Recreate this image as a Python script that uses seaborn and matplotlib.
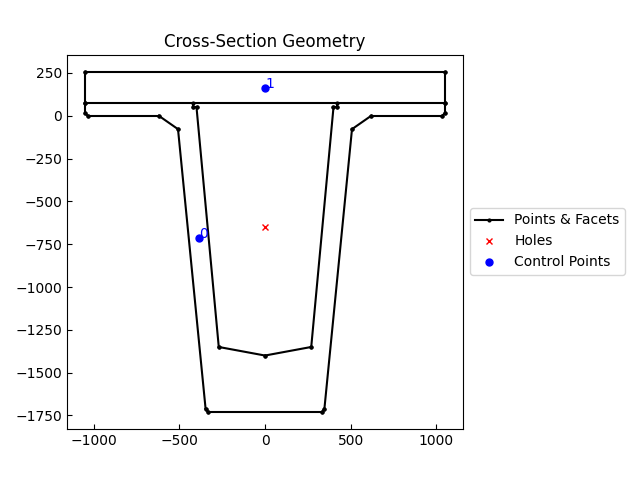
# Imports
import matplotlib
matplotlib.use('Agg')
import matplotlib.pyplot as plt
import seaborn as sns

# Section outline, top slab
slab_x = [-1050, 1050, 1050, -1050, -1050]
slab_y = [255, 255, 75, 75, 255]

# Outer web and flanges
outer_x = [-1050, -1050, -1035, -620, -508, -347, -333, 333, 347, 508, 620, 1035, 1050, 1050]
outer_y = [75, 15, 0, 0, -78, -1710, -1730, -1730, -1710, -78, 0, 0, 15, 75]

# Inner void
inner_x = [-422, -422, -400, -270, 0, 270, 400, 422, 422]
inner_y = [75, 50, 50, -1350, -1400, -1350, 50, 50, 75]

hole_x = [0]
hole_y = [-650]

control_x = [-385, 0]
control_y = [-715, 165]
control_labels = ['0', '1']

fig = plt.figure(figsize=(6.4, 4.8), dpi=100)
ax = fig.add_axes([67 / 640, 51 / 480, 396 / 640, 374 / 480])

# Each facet is its own line, only the first one goes in the legend
first = True
for px, py in [(slab_x, slab_y), (outer_x, outer_y), (inner_x, inner_y)]:
    for i in range(len(px) - 1):
        sns.lineplot(x=px[i:i + 2], y=py[i:i + 2], sort=False, estimator=None, color='k',
                     marker='o', markersize=2, markeredgecolor='k', markeredgewidth=1,
                     label='Points & Facets' if first else None, legend=False, ax=ax)
        first = False

sns.lineplot(x=hole_x, y=hole_y, estimator=None, color='r', marker='x', linestyle='',
             markersize=5, markeredgecolor='r', markeredgewidth=1,
             label='Holes', legend=False, ax=ax)
sns.lineplot(x=control_x, y=control_y, sort=False, estimator=None, color='b', marker='o',
             linestyle='', markersize=5, markeredgecolor='b', markeredgewidth=1,
             label='Control Points', legend=False, ax=ax)

for cx, cy, txt in zip(control_x, control_y, control_labels):
    ax.annotate(txt, (cx, cy), color='b')

ax.set_aspect('equal')
ax.set_xlim(-1156, 1156)
ax.set_ylim(-1829, 355)
ax.set_xticks([-1000, -500, 0, 500, 1000])
ax.set_yticks([250, 0, -250, -500, -750, -1000, -1250, -1500, -1750])
ax.tick_params(direction='in')
ax.set_title('Cross-Section Geometry')
ax.legend(loc='center left', bbox_to_anchor=(1, 0.5015))

fig.savefig('out.png', dpi=100)
